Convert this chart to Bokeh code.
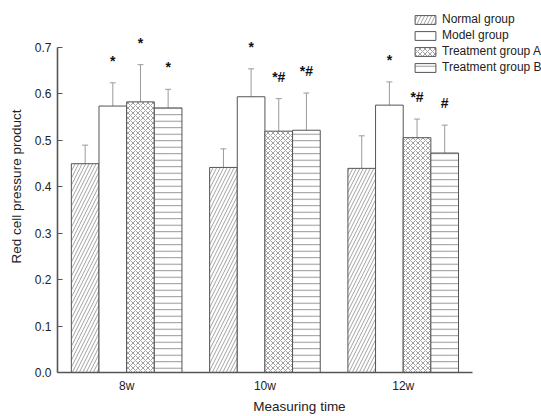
from bokeh.plotting import figure
from bokeh.models import (ColumnDataSource, Whisker, TeeHead, FixedTicker,
                          Legend, LegendItem, NumeralTickFormatter)
from bokeh.core.properties import value
from bokeh.embed import file_html
from bokeh.resources import INLINE

# Measuring times (weeks)
periods = ["8w", "10w", "12w"]

# Group names (legend order)
groups = ["Normal group", "Model group", "Treatment group A", "Treatment group B"]

# Mean red cell pressure product per group and time point
normal_mean = [0.449, 0.441, 0.439]
model_mean = [0.573, 0.593, 0.575]
treat_a_mean = [0.582, 0.519, 0.505]
treat_b_mean = [0.569, 0.521, 0.472]

# Standard deviations
normal_sd = [0.040, 0.040, 0.070]
model_sd = [0.050, 0.060, 0.050]
treat_a_sd = [0.080, 0.070, 0.040]
treat_b_sd = [0.040, 0.080, 0.060]

# Significance marks (* vs normal, # vs model)
normal_sig = ["", "", ""]
model_sig = ["*", "*", "*"]
treat_a_sig = ["*", "*#", "*#"]
treat_b_sig = ["*", "*#", "#"]

y_ticks = [0.0, 0.1, 0.2, 0.3, 0.4, 0.5, 0.6, 0.7]

FONT = "Liberation Sans"

series = [
    (normal_mean, normal_sd, normal_sig, dict(hatch_pattern="/", hatch_scale=7, hatch_color="#8a8a8a", hatch_weight=0.8)),
    (model_mean, model_sd, model_sig, dict()),
    (treat_a_mean, treat_a_sd, treat_a_sig, dict(hatch_pattern="x", hatch_scale=5, hatch_color="#7a7a7a", hatch_weight=0.7)),
    (treat_b_mean, treat_b_sd, treat_b_sig, dict(hatch_pattern="-", hatch_scale=6.5, hatch_color="#8a8a8a", hatch_weight=0.9)),
]

bar_w = 0.2
offsets = [-0.3, -0.1, 0.1, 0.3]

p = figure(width=541, height=416, x_range=(0.5, 4.0), y_range=(0.0, 0.8),
           output_backend="svg", toolbar_location=None,
           min_border_left=57, min_border_right=0, min_border_top=0,
           min_border_bottom=43)
p.outline_line_color = None
p.xgrid.visible = False
p.ygrid.visible = False
p.background_fill_color = "white"

legend_items = []
for (mean, sd, sig, hatch), off, name in zip(series, offsets, groups):
    xs = [i + 1 + off for i in range(len(periods))]
    src = ColumnDataSource(dict(
        x=xs, top=mean,
        upper=[m + s for m, s in zip(mean, sd)],
        lower=[m - s for m, s in zip(mean, sd)],
        sig=sig,
    ))
    r = p.vbar(x="x", top="top", width=bar_w, bottom=0, source=src,
               fill_color="white", line_color="#555555", line_width=1,
               **hatch)
    legend_items.append(LegendItem(label=name, renderers=[r]))
    w = Whisker(base="x", upper="upper", lower="lower", source=src,
                line_color="#9a9a9a", line_width=1,
                upper_head=TeeHead(size=6, line_color="#9a9a9a", line_width=1),
                lower_head=TeeHead(size=6, line_color="#9a9a9a", line_width=1))
    p.add_layout(w)
    p.text(x="x", y="upper", text="sig", source=src,
           text_font=value(FONT), text_font_size="14px", text_font_style="bold",
           text_color="#111111", text_align="center",
           text_baseline="alphabetic", y_offset=-22)

# Axes
xa = p.xaxis[0]
xa.ticker = FixedTicker(ticks=[1, 2, 3])
xa.major_label_overrides = {i + 1: lab for i, lab in enumerate(periods)}
xa.bounds = (0.5, 3.5)
xa.major_tick_in = 0
xa.major_tick_out = 0
xa.minor_tick_line_color = None
xa.axis_line_color = "#555555"
xa.axis_line_width = 1.6
xa.major_label_text_font = FONT
xa.major_label_text_font_size = "12px"
xa.major_label_text_color = "#222222"
xa.major_label_standoff = 6
xa.axis_label = "Measuring time"
xa.axis_label_text_font = FONT
xa.axis_label_text_font_size = "13.5px"
xa.axis_label_text_font_style = "normal"
xa.axis_label_text_color = "#222222"
xa.axis_label_standoff = 3

ya = p.yaxis[0]
ya.ticker = FixedTicker(ticks=y_ticks)
ya.formatter = NumeralTickFormatter(format="0.0")
ya.bounds = (0.0, 0.7)
ya.major_tick_in = 5
ya.major_tick_out = 0
ya.major_tick_line_color = "#555555"
ya.minor_tick_line_color = None
ya.axis_line_color = "#555555"
ya.axis_line_width = 1.6
ya.major_label_text_font = FONT
ya.major_label_text_font_size = "12px"
ya.major_label_text_color = "#222222"
ya.major_label_standoff = 6
ya.axis_label = "Red cell pressure product"
ya.axis_label_text_font = FONT
ya.axis_label_text_font_size = "13.5px"
ya.axis_label_text_font_style = "normal"
ya.axis_label_text_color = "#222222"
ya.axis_label_standoff = 8

legend = Legend(items=legend_items, location=(355, 298),
                orientation="vertical", padding=0, margin=0, spacing=2,
                glyph_width=26, glyph_height=11, label_height=11,
                label_standoff=4, border_line_color=None,
                background_fill_alpha=0,
                label_text_font=FONT, label_text_font_size="12px",
                label_text_color="#222222")
p.add_layout(legend, "center")

open("out.html", "w").write(file_html(p, INLINE))
